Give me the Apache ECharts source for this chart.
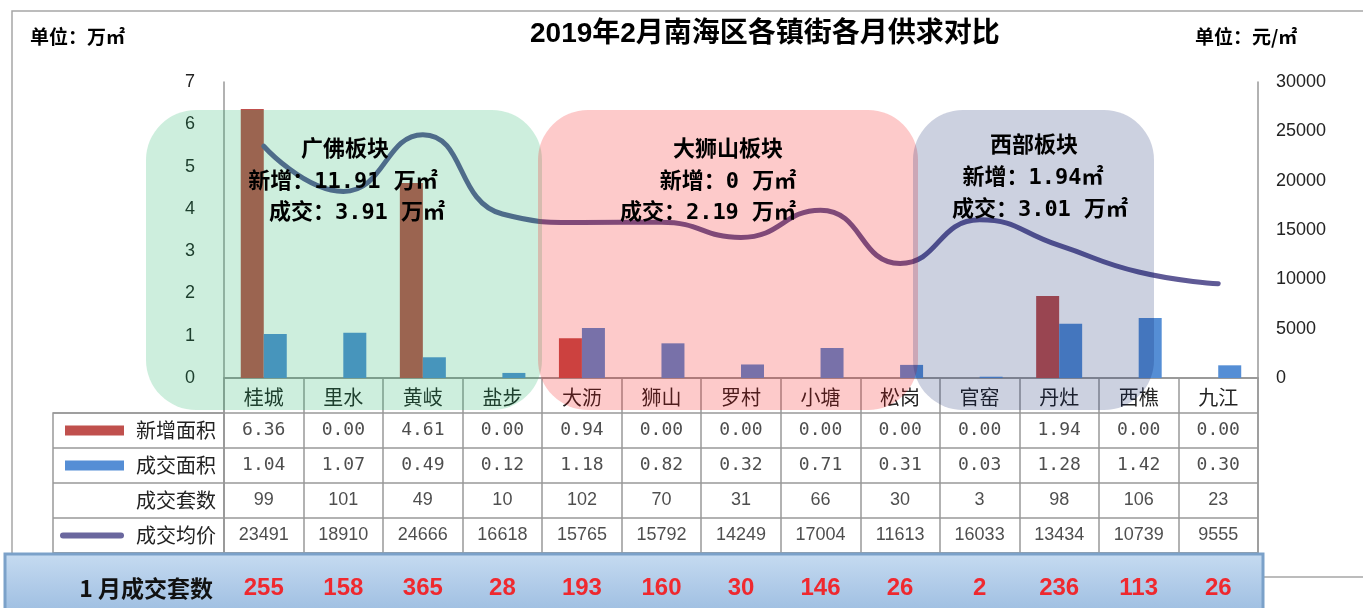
<!DOCTYPE html>
<html>
<head>
<meta charset="utf-8">
<title>2019年2月南海区各镇街各月供求对比</title>
<script src="https://cdn.jsdelivr.net/npm/echarts@6/dist/echarts.min.js"></script>
<style>
  html, body { margin: 0; padding: 0; background: #fff; }
  #chart { width: 1363px; height: 608px; }
</style>
</head>
<body>
<div id="chart"></div>
<script>
var towns = ['桂城', '里水', '黄岐', '盐步', '大沥', '狮山', '罗村', '小塘', '松岗', '官窑', '丹灶', '西樵', '九江']
var newArea = [6.36, 0.00, 4.61, 0.00, 0.94, 0.00, 0.00, 0.00, 0.00, 0.00, 1.94, 0.00, 0.00]
var dealArea = [1.04, 1.07, 0.49, 0.12, 1.18, 0.82, 0.32, 0.71, 0.31, 0.03, 1.28, 1.42, 0.30]
var dealSets = [99, 101, 49, 10, 102, 70, 31, 66, 30, 3, 98, 106, 23]
var avgPrice = [23491, 18910, 24666, 16618, 15765, 15792, 14249, 17004, 11613, 16033, 13434, 10739, 9555]
var janSets = [255, 158, 365, 28, 193, 160, 30, 146, 26, 2, 236, 113, 26]
var rowNames = ['新增面积', '成交面积', '成交套数', '成交均价']
var leftTicks = [0, 7, 1]
var rightTicks = [0, 30000, 5000]

var SANS = '"Liberation Sans", "Noto Sans CJK SC", sans-serif'
var MONO = '"DejaVu Sans Mono", "Noto Sans CJK SC", monospace'
var CJK = '"Noto Sans CJK SC", "Liberation Sans", sans-serif'

// table cells: one label per (town, row)
var rowText = [
  newArea.map(function (v) { return v.toFixed(2) }),
  dealArea.map(function (v) { return v.toFixed(2) }),
  dealSets.map(String),
  avgPrice.map(String)
]
var tableData = []
rowNames.forEach(function (r, j) {
  towns.forEach(function (t, i) {
    tableData.push({
      value: [t, r],
      label: { formatter: rowText[j][i], fontFamily: j < 2 ? MONO : SANS }
    })
  })
})
var janData = towns.map(function (t, i) {
  return { value: [t, 0.5], label: { formatter: String(janSets[i]) } }
})

var chart = echarts.init(document.getElementById('chart'))

function blockText (x, y, str) {
  return {
    type: 'text', z: 20, silent: true,
    style: {
      x: x, y: y, text: str, fill: '#000',
      font: 'bold 22px ' + MONO, textAlign: 'center', textVerticalAlign: 'middle'
    }
  }
}
function block (x, w, color) {
  return {
    type: 'rect', z: 10, silent: true,
    shape: { x: x, y: 110, width: w, height: 300, r: 50 },
    style: { fill: color }
  }
}

var option = {
  animation: false,
  textStyle: { fontFamily: SANS },
  title: {
    text: '2019年2月南海区各镇街各月供求对比',
    left: 530, top: 20, padding: 0,
    textStyle: { fontSize: 28, fontWeight: 'bold', color: '#000', fontFamily: SANS }
  },
  grid: [
    { left: 224, right: 105, top: 82, bottom: 230 },
    { left: 224, right: 105, top: 378, bottom: 55, show: true, borderColor: '#999', borderWidth: 1.5 },
    { left: 53, width: 171, top: 413, bottom: 55, show: true, borderColor: '#999', borderWidth: 1.5 },
    { left: 224, right: 105, top: 568, bottom: 0 }
  ],
  xAxis: [
    {
      type: 'category', gridIndex: 0, data: towns,
      axisLine: { lineStyle: { color: '#999', width: 1.5 } },
      axisTick: { show: false },
      axisLabel: { margin: 9, fontSize: 20, color: '#222', fontFamily: CJK }
    },
    {
      type: 'category', gridIndex: 1, data: towns,
      axisLine: { show: false }, axisTick: { show: false }, axisLabel: { show: false },
      splitLine: { show: true, lineStyle: { color: '#999', width: 1.5 } }
    },
    {
      type: 'category', gridIndex: 2, data: [''],
      axisLine: { show: false }, axisTick: { show: false }, axisLabel: { show: false }
    },
    {
      type: 'category', gridIndex: 3, data: towns, show: false
    }
  ],
  yAxis: [
    {
      type: 'value', gridIndex: 0, min: leftTicks[0], max: leftTicks[1], interval: leftTicks[2],
      axisLine: { show: true, lineStyle: { color: '#999', width: 1.5 } },
      axisTick: { show: false }, splitLine: { show: false },
      axisLabel: { margin: 29, fontSize: 18, color: '#222' }
    },
    {
      type: 'value', gridIndex: 0, position: 'right',
      min: rightTicks[0], max: rightTicks[1], interval: rightTicks[2],
      axisLine: { show: true, lineStyle: { color: '#999', width: 1.5 } },
      axisTick: { show: false }, splitLine: { show: false },
      axisLabel: { margin: 18, fontSize: 18, color: '#222', formatter: function (v) { return String(v) } }
    },
    {
      type: 'category', gridIndex: 1, inverse: true, data: [''].concat(rowNames),
      axisLine: { show: false }, axisTick: { show: false },
      splitLine: { show: true, lineStyle: { color: '#999', width: 1.5 } },
      axisLabel: {
        margin: 8, fontSize: 20, color: '#222', fontFamily: CJK,
        formatter: function (v) {
          if (v === '新增面积') return '{red| }{t|' + v + '}'
          if (v === '成交面积') return '{blue| }{t|' + v + '}'
          if (v === '成交均价') return '{line| }{t|' + v + '}'
          return v ? '{t|' + v + '}' : ''
        },
        rich: {
          red: { width: 59, height: 10, backgroundColor: '#c0504d' },
          blue: { width: 59, height: 10, backgroundColor: '#558ed5' },
          line: { width: 64, height: 6, borderRadius: 3, backgroundColor: '#6a679e' },
          t: { fontSize: 20, color: '#222', fontFamily: CJK, padding: [0, 0, 0, 12] }
        }
      }
    },
    {
      type: 'category', gridIndex: 2, inverse: true, data: rowNames,
      axisLine: { show: false }, axisTick: { show: false }, axisLabel: { show: false },
      splitLine: { show: true, lineStyle: { color: '#999', width: 1.5 } }
    },
    { type: 'value', gridIndex: 3, min: 0, max: 1, show: false }
  ],
  series: [
    {
      name: '新增面积', type: 'bar', xAxisIndex: 0, yAxisIndex: 0,
      barWidth: 23, barGap: '0%', itemStyle: { color: '#c0504d' },
      data: newArea
    },
    {
      name: '成交面积', type: 'bar', xAxisIndex: 0, yAxisIndex: 0,
      barWidth: 23, itemStyle: { color: '#558ed5' },
      data: dealArea
    },
    {
      name: '成交均价', type: 'line', xAxisIndex: 0, yAxisIndex: 1,
      smooth: 0.5, symbol: 'none',
      lineStyle: { width: 5, color: '#5f5a96', cap: 'round' },
      data: avgPrice
    },
    {
      name: 'table', type: 'scatter', xAxisIndex: 1, yAxisIndex: 2, silent: true,
      symbolSize: 1, itemStyle: { color: 'rgba(0,0,0,0)' },
      label: { show: true, position: 'inside', fontSize: 18, color: '#222' },
      data: tableData
    },
    {
      name: '1月成交套数', type: 'scatter', xAxisIndex: 3, yAxisIndex: 4, silent: true, z: 6,
      symbolSize: 1, itemStyle: { color: 'rgba(0,0,0,0)' },
      label: { show: true, position: 'inside', fontSize: 24, fontWeight: 'bold', color: '#ff0000', fontFamily: SANS },
      data: janData
    }
  ],
  graphic: [
    {
      type: 'rect', z: 0, silent: true,
      shape: { x: 12, y: 11, width: 1400, height: 566 },
      style: { fill: 'none', stroke: '#a6a6a6', lineWidth: 1.5 }
    },
    {
      type: 'text', z: 20, silent: true,
      style: { x: 30, y: 37, text: '单位：万㎡', fill: '#000', font: 'bold 19px ' + CJK, textVerticalAlign: 'middle' }
    },
    {
      type: 'text', z: 20, silent: true,
      style: { x: 1195, y: 37, text: '单位：元/㎡', fill: '#000', font: 'bold 19px ' + CJK, textVerticalAlign: 'middle' }
    },
    block(146, 396, 'rgba(17,174,93,0.21)'),
    block(538, 380, 'rgba(245,14,14,0.22)'),
    block(913, 241, 'rgba(0,25,100,0.2)'),
    blockText(345, 150, '广佛板块'),
    blockText(343, 182, '新增：11.91 万㎡'),
    blockText(357, 213, '成交：3.91 万㎡'),
    blockText(728, 150, '大狮山板块'),
    blockText(728, 182, '新增：0 万㎡'),
    blockText(708, 213, '成交：2.19 万㎡'),
    blockText(1034, 146, '西部板块'),
    blockText(1033, 178, '新增：1.94㎡'),
    blockText(1040, 210, '成交：3.01 万㎡'),
    {
      type: 'rect', z: 3, silent: true,
      shape: { x: 5, y: 554, width: 1258, height: 62 },
      style: {
        fill: new echarts.graphic.LinearGradient(0, 0, 0, 1, [
          { offset: 0, color: '#c6dbf1' },
          { offset: 1, color: '#9bbce0' }
        ]),
        stroke: '#7ba1c9', lineWidth: 3
      }
    },
    {
      type: 'text', z: 20, silent: true,
      style: { x: 213, y: 588, text: '1 月成交套数', fill: '#111', font: 'bold 23px ' + CJK, textAlign: 'right', textVerticalAlign: 'middle' }
    }
  ]
}

chart.setOption(option)
</script>
</body>
</html>
